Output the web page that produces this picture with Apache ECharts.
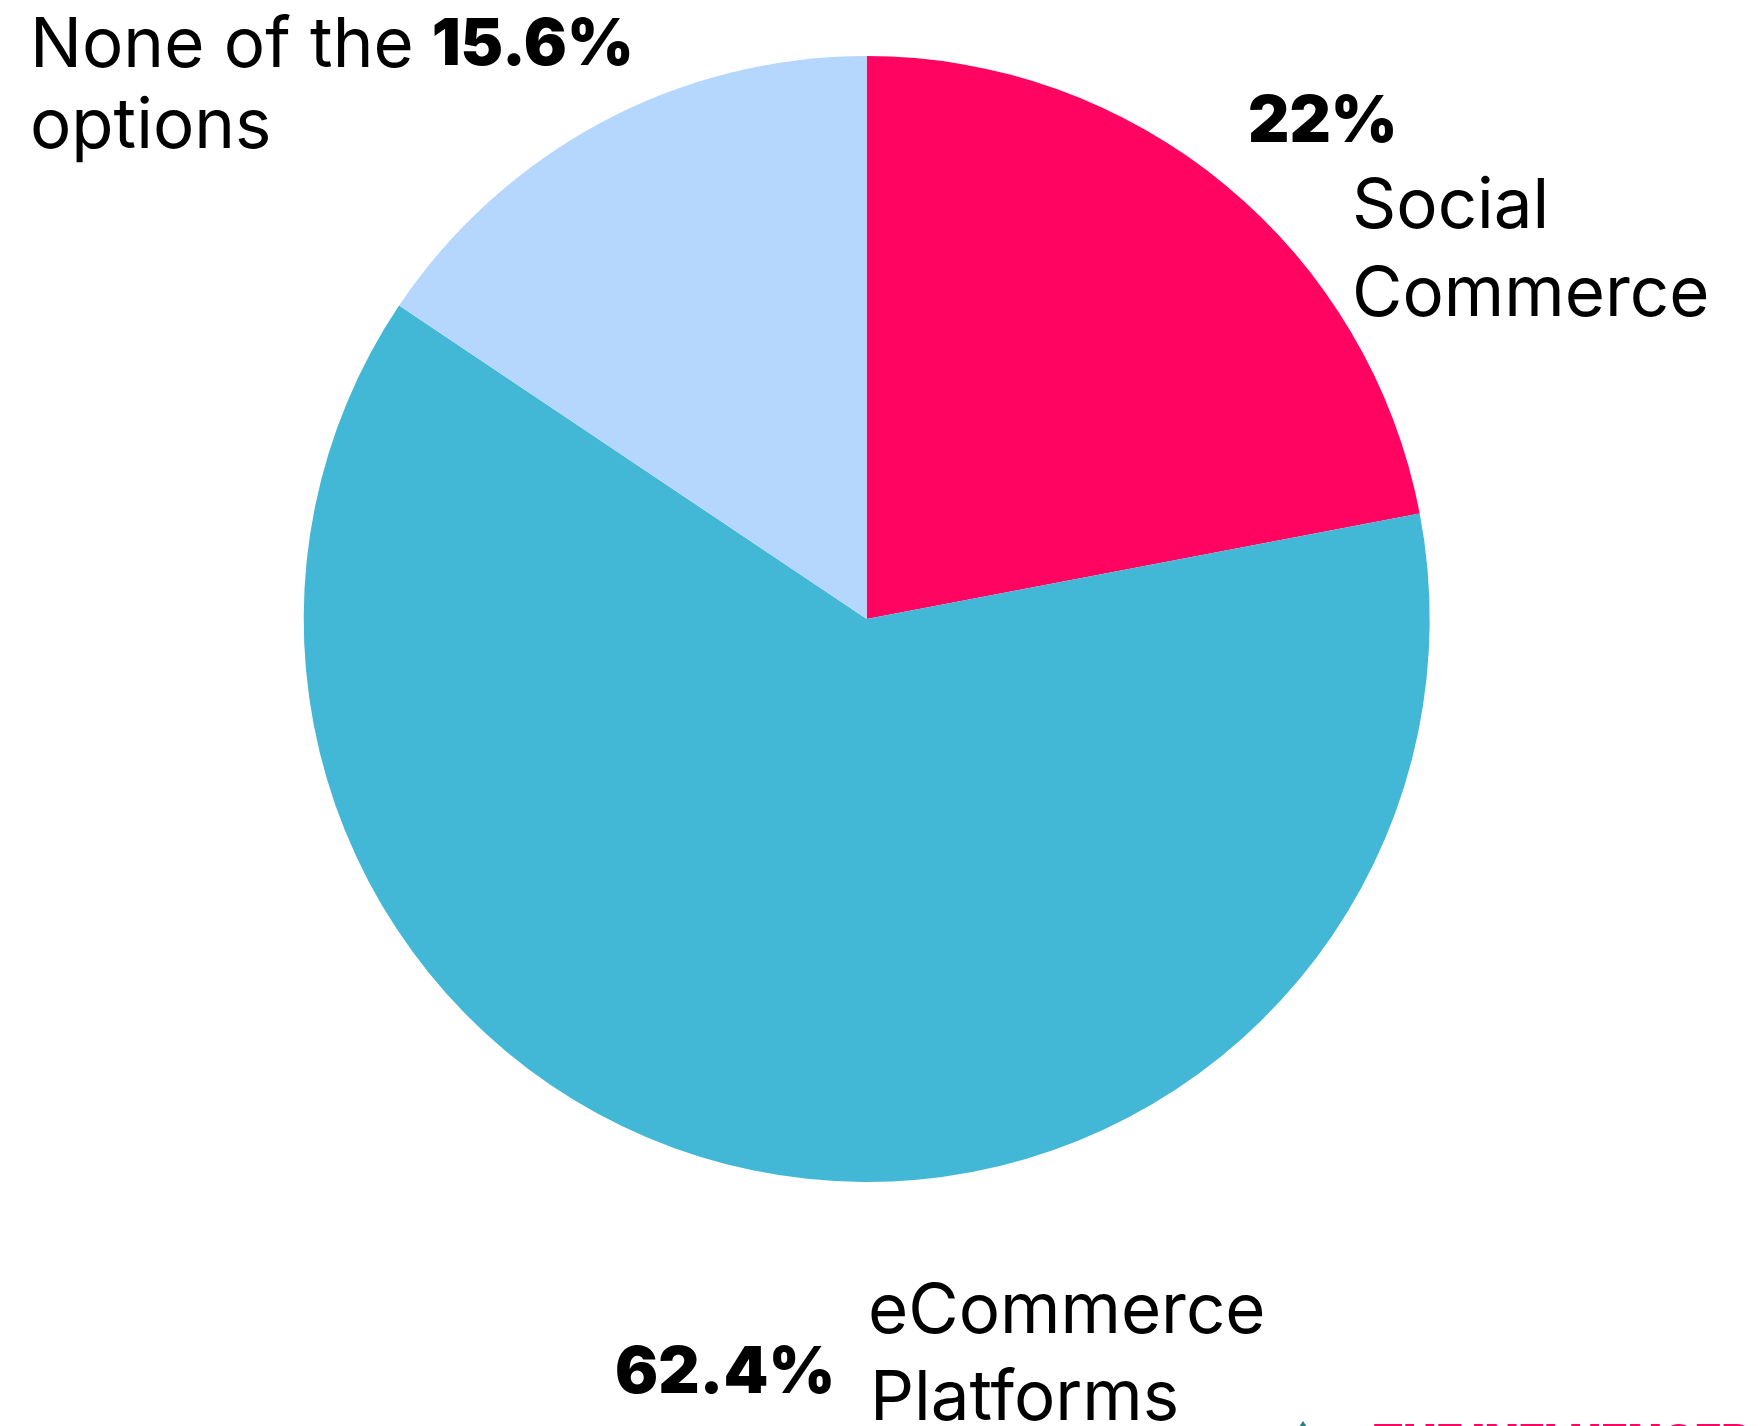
<!DOCTYPE html>
<html>
<head>
<meta charset="utf-8">
<title>Shopping channels</title>
<script src="https://cdn.jsdelivr.net/npm/echarts@6/dist/echarts.min.js"></script>
<style>
  html, body { margin: 0; padding: 0; background: #ffffff; }
  #chart { width: 1760px; height: 1426px; }
</style>
</head>
<body>
<div id="chart"></div>
<script>
// Slice data, in clockwise order from 12 o'clock
const categories = ['Social Commerce', 'eCommerce Platforms', 'None of the options'];
const shares = [22, 62.4, 15.6];
const nameLines = [['Social', 'Commerce'], ['eCommerce', 'Platforms'], ['None of the', 'options']];
const sliceColors = ['#FF0561', '#43B7D6', '#B6D7FD'];

const FONT = 'Inter, "Noto Sans", sans-serif';
const REG = 69;   // regular label size
const BOLD = 64;  // bold percentage size
const pct = v => v + '%';

// width of a string in the regular label font
const measureCtx = document.createElement('canvas').getContext('2d');
function regWidth(str) {
  measureCtx.font = '400 ' + REG + 'px ' + FONT;
  return measureCtx.measureText(str).width;
}

// place a text so that its baseline sits at y
function txt(str, x, baseline, size, weight, color) {
  return {
    type: 'text',
    silent: true,
    style: {
      text: str,
      x: x,
      y: baseline - size * 0.36,
      fill: color || '#000000',
      font: weight + ' ' + size + 'px ' + FONT,
      align: 'left',
      verticalAlign: 'middle'
    }
  };
}

const chart = echarts.init(document.getElementById('chart'), null, { renderer: 'canvas' });

chart.setOption({
  backgroundColor: '#ffffff',
  animation: false,
  series: [{
    type: 'pie',
    center: [866.7, 619],
    radius: 563,
    startAngle: 90,
    clockwise: true,
    silent: true,
    label: { show: false },
    labelLine: { show: false },
    itemStyle: { borderWidth: 0 },
    data: categories.map((c, i) => ({
      name: c,
      value: shares[i],
      itemStyle: { color: sliceColors[i] }
    }))
  }],
  graphic: [
    // None of the options
    txt(nameLines[2][0], 30, 71, REG, 400),
    txt(pct(shares[2]), 30 + regWidth(nameLines[2][0]) + 18, 69, BOLD, 900),
    txt(nameLines[2][1], 30, 152, REG, 400),
    // Social Commerce
    txt(pct(shares[0]), 1248, 146, BOLD, 900),
    txt(nameLines[0][0], 1352, 232, REG, 400),
    txt(nameLines[0][1], 1352, 320, REG, 400),
    // eCommerce Platforms
    txt(pct(shares[1]), 615, 1397, BOLD, 900),
    txt(nameLines[1][0], 868, 1337, REG, 400),
    txt(nameLines[1][1], 870, 1424, REG, 400),
    // brand mark at the bottom edge
    {
      type: 'polygon',
      silent: true,
      shape: { points: [[1297, 1430], [1303, 1421], [1309, 1430]] },
      style: { fill: '#2E7C7A' }
    },
    {
      type: 'text',
      silent: true,
      style: {
        text: 'THE INFLUENCER',
        x: 1373,
        y: 1421,
        fill: '#FF0561',
        font: '900 44px ' + FONT,
        align: 'left',
        verticalAlign: 'top'
      }
    }
  ]
});
</script>
</body>
</html>
